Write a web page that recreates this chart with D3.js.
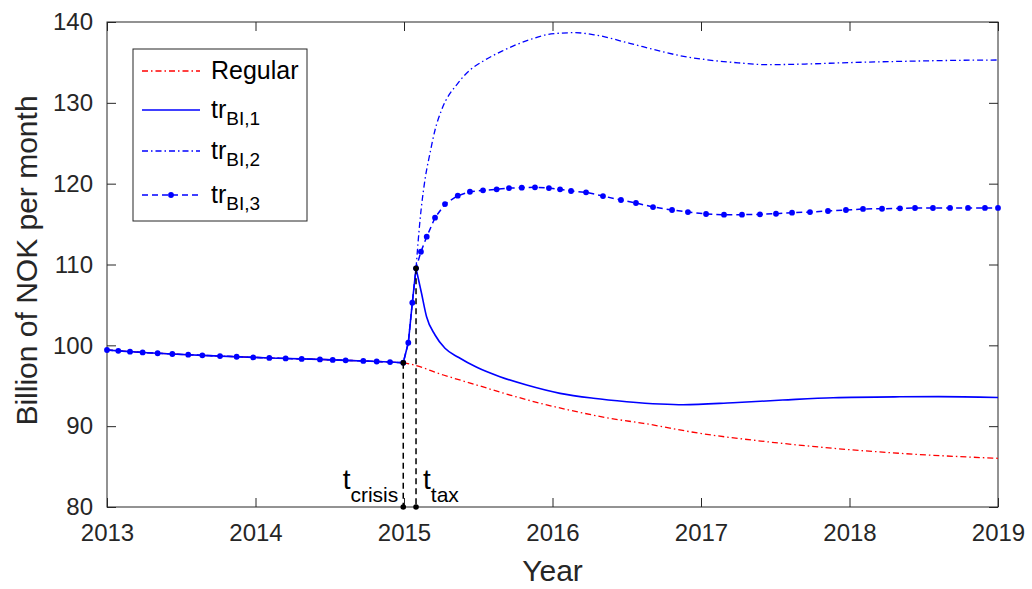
<!DOCTYPE html>
<html>
<head>
<meta charset="utf-8">
<script src="https://cdn.jsdelivr.net/npm/d3@7"></script>
<style>
  body { margin: 0; background: #fff; }
  svg { display: block; font-family: Arial, 'Liberation Sans', Helvetica, sans-serif; }
  .axis text { font-size: 24px; fill: #262626; }
  .axis line, .axis path { stroke: #262626; }
</style>
</head>
<body>
<svg id="chart" width="1032" height="589"></svg>
<script>
// shared history + crisis spike, markers of tr_BI,3 (decimal years)
const markerYears = [
  2013.0, 2013.076, 2013.155, 2013.24, 2013.341, 2013.44, 2013.547, 2013.642, 2013.761, 2013.873,
  2013.985, 2014.093, 2014.203, 2014.311, 2014.434, 2014.52, 2014.607, 2014.726, 2014.816, 2014.906,
  2014.995, 2015.029, 2015.056, 2015.081, 2015.114, 2015.153, 2015.209, 2015.276, 2015.362, 2015.444,
  2015.532, 2015.624, 2015.707, 2015.793, 2015.882, 2015.976, 2016.051, 2016.125, 2016.226, 2016.34,
  2016.461, 2016.562, 2016.677, 2016.805, 2016.912, 2017.034, 2017.155, 2017.276, 2017.397, 2017.505,
  2017.613, 2017.734, 2017.855, 2017.976, 2018.091, 2018.219, 2018.34, 2018.441, 2018.562, 2018.677,
  2018.798, 2018.912, 2019.0
];
const markerValues = [
  99.42, 99.32, 99.22, 99.12, 99.02, 98.93, 98.84, 98.76, 98.67, 98.59,
  98.51, 98.44, 98.38, 98.32, 98.26, 98.2, 98.14, 98.07, 98.0, 97.93,
  97.85, 100.32, 105.27, 109.53, 111.58, 113.44, 115.79, 117.48, 118.51, 119.0,
  119.18, 119.3, 119.46, 119.5, 119.55, 119.46, 119.3, 119.09, 118.93, 118.47,
  117.98, 117.61, 117.11, 116.74, 116.49, 116.25, 116.16, 116.16, 116.21, 116.28,
  116.41, 116.49, 116.62, 116.74, 116.87, 116.9, 116.95, 116.99, 116.99, 117.0,
  117.0, 117.0, 117.0
];

const crisisYear = 2014.995;
const taxYear = 2015.081;

// after the tax peak
const tr1Years = [2015.081, 2015.118, 2015.152, 2015.209, 2015.276, 2015.366, 2015.49, 2015.646, 2015.826,
  2016.051, 2016.275, 2016.5, 2016.724, 2016.879, 2017.215, 2017.55, 2017.89, 2018.34, 2018.6, 2019.0];
const tr1Values = [109.53, 106.44, 103.54, 101.28, 99.63, 98.52, 97.28, 96.12, 95.09,
  94.06, 93.45, 93.03, 92.74, 92.65, 92.9, 93.23, 93.52, 93.63, 93.65, 93.55];

const tr2Years = [2015.081, 2015.108, 2015.141, 2015.175, 2015.209, 2015.253, 2015.366, 2015.444, 2015.534,
  2015.66, 2015.84, 2015.99, 2016.15, 2016.29, 2016.52, 2016.74, 2016.86, 2017.03, 2017.25, 2017.45,
  2017.7, 2018.0, 2018.4, 2018.7, 2019.0];
const tr2Values = [109.53, 115.5, 120.45, 123.76, 126.64, 129.11, 132.5, 134.06, 135.17,
  136.4, 137.77, 138.52, 138.68, 138.39, 137.36, 136.33, 135.83, 135.35, 134.95, 134.72,
  134.8, 134.98, 135.15, 135.25, 135.3];

// after the crisis
const regularYears = [2014.995, 2015.04, 2015.265, 2015.49, 2015.714, 2015.938, 2016.163, 2016.387, 2016.612,
  2016.993, 2017.442, 2017.891, 2018.34, 2019.0];
const regularValues = [97.85, 97.69, 96.33, 95.09, 93.85, 92.74, 91.79, 90.97, 90.35,
  89.11, 88.08, 87.26, 86.64, 86.02];

const xTicks = [2013, 2014, 2015, 2016, 2017, 2018, 2019];
const yTicks = [80, 90, 100, 110, 120, 130, 140];
const legendLabels = ['Regular', 'tr|BI,1', 'tr|BI,2', 'tr|BI,3'];

const svg = d3.select('#chart');
const margin = { top: 22, right: 34, bottom: 82, left: 107 };
const width = 1032 - margin.left - margin.right;
const height = 589 - margin.top - margin.bottom;

const x = d3.scaleLinear().domain([2013, 2019]).range([margin.left, margin.left + width]);
const y = d3.scaleLinear().domain([80, 140]).range([margin.top + height, margin.top]);

const blue = '#0000ff';
const red = '#ff0000';
const axisColor = '#262626';
const dashDot = '6,3,1.5,3';
const dashed = '6,4';

const zip = (xs, ys) => xs.map((d, i) => [d, ys[i]]);
const markers = zip(markerYears, markerValues);
const history = markers.filter(d => d[0] <= taxYear);
const preCrisis = markers.filter(d => d[0] <= crisisYear);

const linear = d3.line().x(d => x(d[0])).y(d => y(d[1]));
const smooth = d3.line().x(d => x(d[0])).y(d => y(d[1])).curve(d3.curveMonotoneX);

// axes
const tick = 9;
svg.append('g').attr('class', 'axis')
  .attr('transform', `translate(0,${y(80)})`)
  .call(d3.axisBottom(x).tickValues(xTicks).tickFormat(d3.format('d')).tickSize(-tick).tickPadding(17))
  .call(g => g.select('.domain').remove());
svg.append('g').attr('class', 'axis')
  .attr('transform', `translate(0,${y(140)})`)
  .call(d3.axisTop(x).tickValues(xTicks).tickFormat('').tickSize(-tick))
  .call(g => g.select('.domain').remove());
svg.append('g').attr('class', 'axis')
  .attr('transform', `translate(${x(2013)},0)`)
  .call(d3.axisLeft(y).tickValues(yTicks).tickSize(-tick).tickPadding(14))
  .call(g => g.select('.domain').remove());
svg.append('g').attr('class', 'axis')
  .attr('transform', `translate(${x(2019)},0)`)
  .call(d3.axisRight(y).tickValues(yTicks).tickFormat('').tickSize(-tick))
  .call(g => g.select('.domain').remove());

svg.append('rect')
  .attr('x', x(2013)).attr('y', y(140))
  .attr('width', x(2019) - x(2013)).attr('height', y(80) - y(140))
  .attr('fill', 'none').attr('stroke', axisColor).attr('stroke-width', 1);

// series
const plot = svg.append('g');

plot.append('path').datum(preCrisis).attr('d', linear)
  .attr('fill', 'none').attr('stroke', red).attr('stroke-width', 1.3).attr('stroke-dasharray', dashDot);
plot.append('path').datum(zip(regularYears, regularValues)).attr('d', smooth)
  .attr('fill', 'none').attr('stroke', red).attr('stroke-width', 1.3).attr('stroke-dasharray', dashDot);

plot.append('path').datum(history).attr('d', linear)
  .attr('fill', 'none').attr('stroke', blue).attr('stroke-width', 1.6);
plot.append('path').datum(zip(tr1Years, tr1Values)).attr('d', smooth)
  .attr('fill', 'none').attr('stroke', blue).attr('stroke-width', 1.6);

plot.append('path').datum(zip(tr2Years, tr2Values)).attr('d', smooth)
  .attr('fill', 'none').attr('stroke', blue).attr('stroke-width', 1.3).attr('stroke-dasharray', dashDot);

plot.append('path').datum(markers).attr('d', linear)
  .attr('fill', 'none').attr('stroke', blue).attr('stroke-width', 1.5).attr('stroke-dasharray', dashed);
plot.selectAll('.mk').data(markers).join('circle')
  .attr('class', 'mk')
  .attr('cx', d => x(d[0])).attr('cy', d => y(d[1])).attr('r', 2.9)
  .attr('fill', blue);

// crisis and tax markers
const events = [
  { year: crisisYear, value: markerValues[markerYears.indexOf(crisisYear)], name: 'crisis', side: 'left' },
  { year: taxYear, value: markerValues[markerYears.indexOf(taxYear)], name: 'tax', side: 'right' }
];
plot.selectAll('.ev').data(events).join('line')
  .attr('class', 'ev')
  .attr('x1', d => x(d.year)).attr('x2', d => x(d.year))
  .attr('y1', d => y(d.value)).attr('y2', y(80))
  .attr('stroke', '#000').attr('stroke-width', 1.5).attr('stroke-dasharray', '6,4');
plot.selectAll('.evdot').data(events.flatMap(d => [[d.year, d.value], [d.year, 80]])).join('circle')
  .attr('class', 'evdot')
  .attr('cx', d => x(d[0])).attr('cy', d => y(d[1])).attr('r', 2.8).attr('fill', '#000');

const evText = svg.append('g').selectAll('text').data(events).join('text')
  .attr('x', d => d.side === 'left' ? x(d.year) - 5 : x(d.year) + 7)
  .attr('y', 489)
  .attr('text-anchor', d => d.side === 'left' ? 'end' : 'start')
  .attr('fill', '#000');
evText.append('tspan').attr('font-size', 28).text('t');
evText.append('tspan').attr('font-size', 21).attr('dy', 13).text(d => d.name);

// axis titles
svg.append('text')
  .attr('x', (x(2013) + x(2019)) / 2).attr('y', 581)
  .attr('text-anchor', 'middle').attr('font-size', 30).attr('fill', axisColor)
  .text('Year');
svg.append('text')
  .attr('transform', `translate(37,${(y(80) + y(140)) / 2 - 4}) rotate(-90)`)
  .attr('text-anchor', 'middle').attr('font-size', 30).attr('fill', axisColor)
  .text('Billion of NOK per month');

// legend
const legend = svg.append('g');
legend.append('rect')
  .attr('x', 133).attr('y', 49).attr('width', 174).attr('height', 172)
  .attr('fill', '#fff').attr('stroke', axisColor).attr('stroke-width', 1);
const rowY = [71, 110, 151, 195];
const legendStyles = [
  { color: red, dash: dashDot, width: 1.3, marker: false },
  { color: blue, dash: null, width: 1.6, marker: false },
  { color: blue, dash: dashDot, width: 1.3, marker: false },
  { color: blue, dash: dashed, width: 1.5, marker: true }
];
legendLabels.forEach((label, i) => {
  const st = legendStyles[i];
  const ly = rowY[i];
  legend.append('line')
    .attr('x1', 142).attr('x2', 200).attr('y1', ly).attr('y2', ly)
    .attr('stroke', st.color).attr('stroke-width', st.width)
    .attr('stroke-dasharray', st.dash);
  if (st.marker) {
    legend.append('circle').attr('cx', 171).attr('cy', ly).attr('r', 2.9).attr('fill', st.color);
  }
  const [main, sub] = label.split('|');
  const t = legend.append('text').attr('x', 211).attr('y', ly + 8).attr('fill', '#000');
  t.append('tspan').attr('font-size', 25).text(main);
  if (sub) t.append('tspan').attr('font-size', 19).attr('dy', 7).text(sub);
});
</script>
</body>
</html>
